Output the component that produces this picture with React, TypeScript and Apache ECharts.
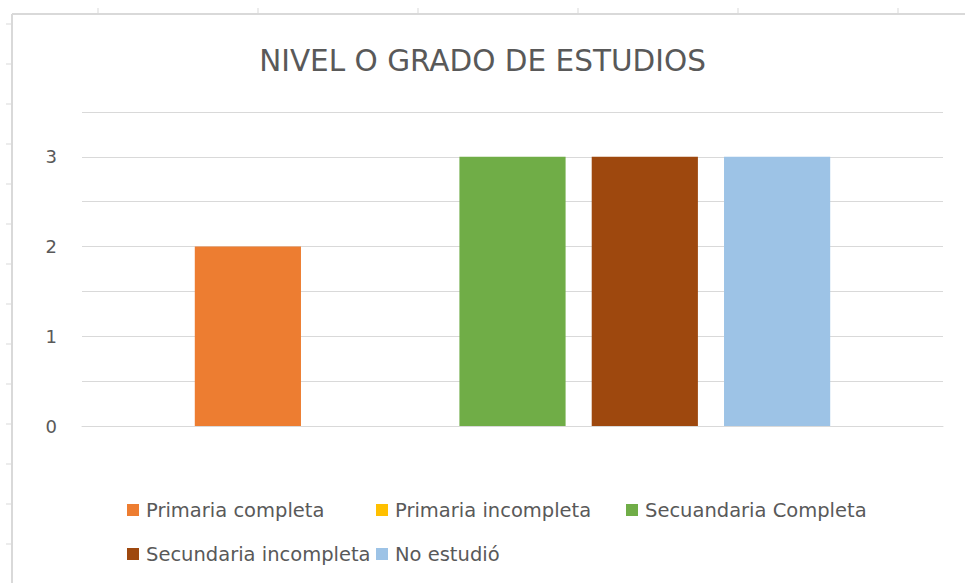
import React, { useEffect, useRef } from "react";
import * as echarts from "echarts";

const chartTitle = "NIVEL O GRADO DE ESTUDIOS";
const categories = [""];
const seriesNames = [
  "Primaria completa",
  "Primaria incompleta",
  "Secuandaria Completa",
  "Secundaria incompleta",
  "No estudió",
];
const seriesValues = [2, 0, 3, 3, 3];
const seriesColors = ["#ED7D31", "#FFC000", "#70AD47", "#9E480E", "#9DC3E6"];
const yTickLabels = [0, 1, 2, 3];

// legend slot positions (layout only)
const legendSlots = [
  { left: 127, top: 500 },
  { left: 376, top: 500 },
  { left: 626, top: 500 },
  { left: 127, top: 544 },
  { left: 376, top: 544 },
];

const FONT = "DejaVu Sans";
const TEXT_COLOR = "#595959";
const GRID_COLOR = "#d9d9d9";

export default function App() {
  const ref = useRef<HTMLDivElement>(null);

  useEffect(() => {
    document.body.style.margin = "0";
    if (!ref.current) return;
    const chart = echarts.init(ref.current, undefined, { renderer: "svg" });

    const deco: any[] = [];
    // spreadsheet frame
    deco.push({
      type: "line",
      shape: { x1: 12, y1: 14, x2: 965, y2: 14 },
      style: { stroke: GRID_COLOR, lineWidth: 2 },
      silent: true,
    });
    deco.push({
      type: "line",
      shape: { x1: 12, y1: 14, x2: 12, y2: 583 },
      style: { stroke: GRID_COLOR, lineWidth: 2 },
      silent: true,
    });
    for (let x = 98; x < 965; x += 160) {
      deco.push({
        type: "line",
        shape: { x1: x, y1: 8, x2: x, y2: 14 },
        style: { stroke: GRID_COLOR, lineWidth: 1 },
        silent: true,
      });
    }
    for (let y = 24; y < 583; y += 40) {
      deco.push({
        type: "line",
        shape: { x1: 6, y1: y, x2: 12, y2: y },
        style: { stroke: GRID_COLOR, lineWidth: 1 },
        silent: true,
      });
    }

    const option: any = {
      animation: false,
      backgroundColor: "#ffffff",
      title: {
        text: chartTitle,
        left: "center",
        top: 41,
        textStyle: {
          fontFamily: FONT,
          fontSize: 29.5,
          fontWeight: "normal",
          color: TEXT_COLOR,
        },
      },
      graphic: deco,
      legend: seriesNames.map((name, i) => ({
        data: [name],
        left: legendSlots[i].left,
        top: legendSlots[i].top,
        itemWidth: 12,
        itemHeight: 12,
        icon: "rect",
        padding: 0,
        textStyle: {
          fontFamily: FONT,
          fontSize: 19.5,
          color: TEXT_COLOR,
          lineHeight: 20,
          padding: [0, 0, 0, 2],
        },
      })),
      grid: {
        left: 82,
        right: 22,
        top: 112,
        bottom: 157,
        containLabel: false,
      },
      xAxis: {
        type: "category",
        data: categories,
        axisLine: { show: true, lineStyle: { color: GRID_COLOR } },
        axisTick: { show: false },
        axisLabel: { show: false },
      },
      yAxis: {
        type: "value",
        min: 0,
        max: 3.5,
        interval: 0.5,
        axisLine: { show: false },
        axisTick: { show: false },
        splitLine: { lineStyle: { color: GRID_COLOR, width: 1 } },
        axisLabel: {
          margin: 25,
          fontFamily: FONT,
          fontSize: 18,
          color: TEXT_COLOR,
          formatter: (v: number) => (yTickLabels.includes(v) ? String(v) : ""),
        },
      },
      series: seriesNames.map((name, i) => ({
        name,
        type: "bar",
        data: [seriesValues[i]],
        itemStyle: { color: seriesColors[i] },
        barGap: "24.6%",
        barCategoryGap: "26.2%",
      })),
    };

    chart.setOption(option);
    return () => chart.dispose();
  }, []);

  return <div ref={ref} style={{ width: 965, height: 583 }} />;
}
